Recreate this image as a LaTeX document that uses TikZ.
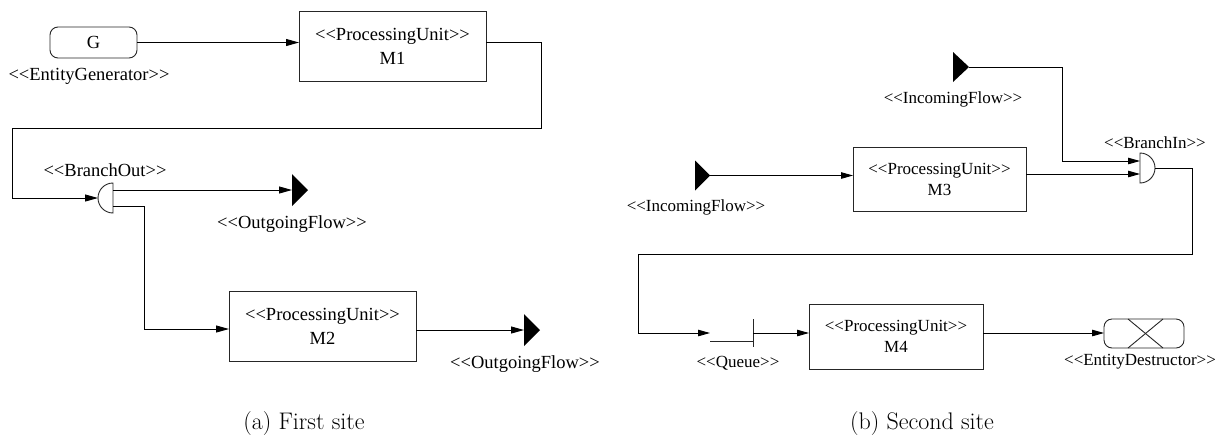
\documentclass[tikz,border=0pt]{standalone}
\usepackage{fontspec}
\newfontfamily\diafont{Liberation Serif}
\usetikzlibrary{arrows.meta}
\newcommand{\stereo}[1]{\textless\textless#1\textgreater\textgreater}

\begin{document}
\begin{tikzpicture}[x=1pt,y=-1pt,
  every node/.style={inner sep=0pt, outer sep=0pt},
  big/.style={font=\diafont\fontsize{18.5}{24}\selectfont},
  small/.style={font=\diafont\fontsize{17}{21}\selectfont},
  unit/.style={draw=black!85, line width=0.9pt, align=center},
  shapeline/.style={draw=black!85, line width=0.9pt},
  flow/.style={line width=0.9pt, -{Triangle[length=13pt,width=7pt]}},
  flowsm/.style={line width=0.9pt, -{Triangle[length=12pt,width=6.5pt]}},
  captext/.style={font=\fontsize{24}{28}\selectfont},
]
\useasboundingbox (0,0) rectangle (1226,440);

% ---------------- first site ----------------
\node[unit, big, rounded corners=8pt, minimum width=87pt, minimum height=31pt] (g) at (93.5,42.5) {G};
\node[big] (glab) at (89,76) {\stereo{EntityGenerator}};

\node[unit, big, minimum width=187pt, minimum height=70pt] (m1) at (392.5,46) {\stereo{ProcessingUnit}\\M1};

% branch-out: half disc, flat side to the right
\node[minimum width=30pt, minimum height=30pt] (bo) at (113,198) {};
\draw[shapeline] (bo.north) arc[start angle=90, end angle=270, radius=15pt] -- cycle;
\node[big] (bolab) at (105,170) {\stereo{BranchOut}};

% outgoing flows
\node[minimum width=16pt, minimum height=32pt] (of1) at (300,190) {};
\fill (of1.north west) -- (of1.east) -- (of1.south west) -- cycle;
\node[big] (of1lab) at (292,224) {\stereo{OutgoingFlow}};

\node[unit, big, minimum width=187pt, minimum height=70pt] (m2) at (322.5,326) {\stereo{ProcessingUnit}\\M2};

\node[minimum width=16pt, minimum height=32pt] (of2) at (532,330) {};
\fill (of2.north west) -- (of2.east) -- (of2.south west) -- cycle;
\node[big] (of2lab) at (525,364) {\stereo{OutgoingFlow}};

\draw[flow] (g.east) -- (g.east -| m1.west);
\draw[flow] (m1.east |- g.east) -| (541,128) -| ([xshift=-86pt]bo.west) -- (bo.west);
\draw[flow] ([yshift=8pt]bo.center) -- (of1.west);
\draw[flow] ([yshift=-8pt]bo.center) -- ++(31,0) |- ([yshift=-3pt]m2.west);
\draw[flow] ([yshift=-4pt]m2.east) -- (of2.west);

\node[captext] (capa) at (304,424) {(a) First site};

% ---------------- second site ----------------
\node[minimum width=15pt, minimum height=30pt] (if1) at (702.5,175.5) {};
\fill (if1.north west) -- (if1.east) -- (if1.south west) -- cycle;
\node[small] (if1lab) at (696,207) {\stereo{IncomingFlow}};

\node[minimum width=16pt, minimum height=30pt] (if2) at (961,67) {};
\fill (if2.north west) -- (if2.east) -- (if2.south west) -- cycle;
\node[small] (if2lab) at (953,99) {\stereo{IncomingFlow}};

\node[unit, small, minimum width=173pt, minimum height=64pt] (m3) at (939.5,179) {\stereo{ProcessingUnit}\\M3};

% branch-in: half disc, flat side to the left
\node[minimum width=30pt, minimum height=30pt] (bi) at (1140,168) {};
\draw[shapeline] (bi.north) arc[start angle=90, end angle=-90, radius=15pt] -- cycle;
\node[small] (bilab) at (1155,143) {\stereo{BranchIn}};
\coordinate (bihi) at ([yshift=7pt]bi.center);
\coordinate (bilo) at ([yshift=-6pt]bi.center);

% queue
\node[minimum width=43pt, minimum height=28pt] (qu) at (731.5,333) {};
\draw[shapeline] ([yshift=-8pt]qu.west) -- ([yshift=-8pt]qu.east);
\draw[shapeline] (qu.north east) -- (qu.south east);
\node[small] (qulab) at (738,363) {\stereo{Queue}};

\node[unit, small, minimum width=174pt, minimum height=65pt] (m4) at (896,336.5) {\stereo{ProcessingUnit}\\M4};

% entity destructor
\node[unit, rounded corners=8pt, minimum width=80pt, minimum height=29pt] (ed) at (1144,333.5) {};
\draw[shapeline] ([xshift=-16pt]ed.north) -- ([xshift=19pt]ed.south);
\draw[shapeline] ([xshift=19pt]ed.north) -- ([xshift=-16pt]ed.south);
\node[small] (edlab) at (1140,362) {\stereo{EntityDestructor}};

\draw[flowsm] (if1.east) -- (if1.east -| m3.west);
\draw[flowsm] (if2.east) -| ([xshift=-78pt]bihi) -- (bihi);
\draw[flowsm] (m3.east |- bilo) -- (bilo);
\draw[flowsm] (bi.east) -| (1192,254) -| ([xshift=-72pt]qu.west) -- (qu.west);
\draw[flowsm] (qu.east) -- (qu.east -| m4.west);
\draw[flowsm] (m4.east |- qu.east) -- (qu.east -| ed.west);

\node[captext] (capb) at (922,424) {(b) Second site};
\end{tikzpicture}
\end{document}
